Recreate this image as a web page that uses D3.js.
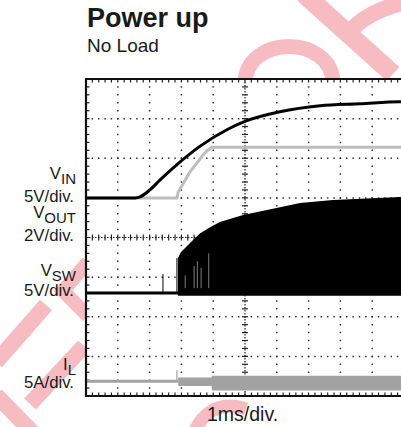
<!DOCTYPE html>
<meta charset="utf-8">
<style>
body { margin: 0; background: #fff; }
svg { display: block; font-family: "Liberation Sans", Arial, Helvetica, sans-serif; }
.lbl { font-size: 16.8px; text-anchor: end; fill: #1a1a1a; }
.sub { font-size: 15px; }
</style>
<svg width="401" height="427"></svg>
<script src="https://cdn.jsdelivr.net/npm/d3@7"></script>
<script>

// values (time in ms, volts / amps)
var vinTime  = [0, 1.55, 1.7, 2.01, 2.33, 2.86, 3.58, 4.43, 5.0, 6.1, 7.36, 8.62, 9.87, 10];
var vinVolts = [0, 0, 0.13, 1.01, 2.27, 4.2, 6.5, 8.6, 9.65, 10.86, 11.62, 11.87, 12.12, 12.12];

var voutTime  = [0, 2.86, 2.9, 3.27, 3.7, 3.84, 3.96, 10];
var voutVolts = [0, 0, 0.3, 1.31, 2.2, 2.42, 2.55, 2.55];

var swStart   = 2.9;
var swTime    = [2.89, 2.99, 3.27, 3.58, 3.9, 4.21, 4.94, 5.69, 6.73, 7.77, 9.87, 10];
var swPeak    = [4.42, 5.18, 6.31, 7.5, 8.3, 8.96, 9.85, 10.48, 11.36, 11.74, 12.12, 12.12];
var swSpikeT  = [2.42, 2.86];
var swSpikeV  = [2.4, 4.4];
var swGapT    = [3.12, 3.4, 3.5, 3.62, 3.86];
var swGapV    = [2.2, 3.4, 4.0, 3.2, 5.0];

var ilSpikeT  = 2.86, ilSpikeA = 1.39;
var ilTime    = [2.9, 3.95, 3.96, 10];
var ilHigh    = [0.5, 0.5, 0.7, 0.7];
var ilLow     = [-0.6, -0.6, -1.15, -1.15];

var svg = d3.select("svg");

// screen: 10 x 8 divisions, right edge falls just off the picture
var pL = 86, pT = 79, plotW = 318, plotH = 317;
var x = d3.scaleLinear().domain([0, 10]).range([pL, pL + plotW]);
var div = d3.scaleLinear().domain([0, 8]).range([pT, pT + plotH]);

function channel(ground, perDiv) {
  return d3.scaleLinear().domain([0, perDiv]).range([div(ground), div(ground - 1)]);
}
var yVin  = channel(3.0, 5),
    yVout = channel(3.0, 2),
    ySw   = channel(5.4, 5),
    yIl   = channel(7.63, 5);

// watermark, sits behind the screen
var pink = "#f7bcc1";
var wm = svg.append("g").attr("fill", "none").attr("stroke", pink);
wm.append("path").attr("d", "M245,84 C245,34 333,34 333,84").attr("stroke-width", 15);
wm.append("path").attr("d", "M304,-6 L393,74").attr("stroke-width", 19);
wm.append("path").attr("d", "M343,40 Q362,12 406,2").attr("stroke-width", 16);
wm.append("path").attr("d", "M88,262 L63,291 L88,316").attr("stroke-width", 14);
wm.append("path").attr("d", "M46,305 L-4,362").attr("stroke-width", 16);
wm.append("path").attr("d", "M84,346 L30,404").attr("stroke-width", 16);
wm.append("path").attr("d", "M-4,395 L40,440").attr("stroke-width", 16);
wm.append("path").attr("d", "M195,430 Q212,398 246,409").attr("stroke-width", 13);

svg.append("rect").attr("x", pL).attr("y", pT).attr("width", plotW).attr("height", plotH).attr("fill", "#fff");

svg.append("clipPath").attr("id", "clip").append("rect")
  .attr("x", pL).attr("y", pT).attr("width", plotW).attr("height", plotH);

var grid = svg.append("g").attr("clip-path", "url(#clip)");
var minorW = plotW / 50, minorH = plotH / 40;

d3.range(1, 10).filter(function(i) { return i != 5; }).forEach(function(i) {
  grid.append("line").attr("x1", x(i)).attr("x2", x(i)).attr("y1", pT).attr("y2", pT + plotH)
    .attr("stroke", "#333").attr("stroke-width", 1.5)
    .attr("stroke-dasharray", "1.5," + (minorH - 1.5)).attr("stroke-dashoffset", 0.75);
});
d3.range(1, 8).filter(function(i) { return i != 4; }).forEach(function(i) {
  grid.append("line").attr("y1", div(i)).attr("y2", div(i)).attr("x1", pL).attr("x2", pL + plotW)
    .attr("stroke", "#333").attr("stroke-width", 1.5)
    .attr("stroke-dasharray", "1.5," + (minorW - 1.5)).attr("stroke-dashoffset", 0.75);
});

// centre cross with minor ticks
grid.append("line").attr("x1", x(5)).attr("x2", x(5)).attr("y1", pT).attr("y2", pT + plotH)
  .attr("stroke", "#222").attr("stroke-width", 1.2).attr("stroke-dasharray", "1.5,1.5");
grid.append("line").attr("y1", div(4)).attr("y2", div(4)).attr("x1", pL).attr("x2", pL + plotW)
  .attr("stroke", "#222").attr("stroke-width", 1.2).attr("stroke-dasharray", "1.5,1.5");
grid.selectAll(".tv").data(d3.range(1, 40)).enter().append("line")
  .attr("x1", x(5) - 3).attr("x2", x(5) + 3)
  .attr("y1", function(d) { return pT + d * minorH; }).attr("y2", function(d) { return pT + d * minorH; })
  .attr("stroke", "#222").attr("stroke-width", 1.2);
grid.selectAll(".th").data(d3.range(1, 50)).enter().append("line")
  .attr("y1", div(4) - 3).attr("y2", div(4) + 3)
  .attr("x1", function(d) { return pL + d * minorW; }).attr("x2", function(d) { return pL + d * minorW; })
  .attr("stroke", "#222").attr("stroke-width", 1.2);

// edge ticks
grid.selectAll(".et").data(d3.range(1, 50)).enter().append("line")
  .attr("x1", function(d) { return pL + d * minorW; }).attr("x2", function(d) { return pL + d * minorW; })
  .attr("y1", pT).attr("y2", pT + 3.5).attr("stroke", "#222").attr("stroke-width", 1.2);
grid.selectAll(".eb").data(d3.range(1, 50)).enter().append("line")
  .attr("x1", function(d) { return pL + d * minorW; }).attr("x2", function(d) { return pL + d * minorW; })
  .attr("y1", pT + plotH).attr("y2", pT + plotH - 3.5).attr("stroke", "#222").attr("stroke-width", 1.2);
grid.selectAll(".el").data(d3.range(1, 40)).enter().append("line")
  .attr("y1", function(d) { return pT + d * minorH; }).attr("y2", function(d) { return pT + d * minorH; })
  .attr("x1", pL).attr("x2", pL + 3.5).attr("stroke", "#222").attr("stroke-width", 1.2);

var traces = svg.append("g").attr("clip-path", "url(#clip)");

// I_L
var ilGray = "#a2a2a2";
traces.append("line").attr("x1", x(0)).attr("x2", x(swStart)).attr("y1", yIl(0)).attr("y2", yIl(0))
  .attr("stroke", ilGray).attr("stroke-width", 3);
traces.append("line").attr("x1", x(ilSpikeT)).attr("x2", x(ilSpikeT)).attr("y1", yIl(0)).attr("y2", yIl(ilSpikeA))
  .attr("stroke", ilGray).attr("stroke-width", 1.2);
traces.append("path")
  .datum(d3.zip(ilTime, ilHigh, ilLow))
  .attr("fill", ilGray)
  .attr("d", d3.area().x(function(d) { return x(d[0]); })
    .y0(function(d) { return yIl(d[2]); }).y1(function(d) { return yIl(d[1]); }));

// V_OUT
traces.append("path")
  .datum(d3.zip(voutTime, voutVolts))
  .attr("fill", "none").attr("stroke", "#bdbdbd").attr("stroke-width", 3)
  .attr("d", d3.line().x(function(d) { return x(d[0]); }).y(function(d) { return yVout(d[1]); }));

// V_IN
traces.append("path")
  .datum(d3.zip(vinTime, vinVolts))
  .attr("fill", "none").attr("stroke", "#000").attr("stroke-width", 3)
  .attr("d", d3.line().curve(d3.curveMonotoneX)
    .x(function(d) { return x(d[0]); }).y(function(d) { return yVin(d[1]); }));

// V_SW : idle line, two early spikes, then the switching envelope
traces.append("line").attr("x1", x(0)).attr("x2", x(swStart)).attr("y1", ySw(0)).attr("y2", ySw(0))
  .attr("stroke", "#000").attr("stroke-width", 3);
traces.selectAll(".sp").data(d3.zip(swSpikeT, swSpikeV)).enter().append("line")
  .attr("x1", function(d) { return x(d[0]); }).attr("x2", function(d) { return x(d[0]); })
  .attr("y1", ySw(0)).attr("y2", function(d) { return ySw(d[1]); })
  .attr("stroke", "#000").attr("stroke-width", 1);
traces.append("path")
  .datum(d3.zip(swTime, swPeak))
  .attr("fill", "#000")
  .attr("d", d3.area().x(function(d) { return x(d[0]); })
    .y0(ySw(-0.35)).y1(function(d) { return ySw(d[1]); }));
// lighter gaps between the first bursts
traces.selectAll(".gap").data(d3.zip(swGapT, swGapV)).enter().append("line")
  .attr("x1", function(d) { return x(d[0]); }).attr("x2", function(d) { return x(d[0]); })
  .attr("y1", function(d) { return ySw(d[1]); }).attr("y2", ySw(0.6))
  .attr("stroke", "#8a8a8a").attr("stroke-width", 0.9);

// frame
svg.append("path")
  .attr("d", "M" + (pL + plotW + 5) + "," + pT + "H" + pL + "V" + (pT + plotH) + "H" + (pL + plotW + 5))
  .attr("fill", "none").attr("stroke", "#111").attr("stroke-width", 2.2);

// text
svg.append("text").attr("x", 87).attr("y", 27).attr("font-size", 27).attr("font-weight", "bold")
  .attr("fill", "#1a1a1a").text("Power up");
svg.append("text").attr("x", 87).attr("y", 52).attr("font-size", 19).attr("fill", "#1a1a1a").text("No Load");

function chanLabel(name, sub, yName, unit, yUnit) {
  var t = svg.append("text").attr("class", "lbl").attr("x", 76).attr("y", yName);
  t.append("tspan").text(name);
  t.append("tspan").attr("class", "sub").attr("dy", 5).text(sub);
  svg.append("text").attr("class", "lbl").attr("x", 74).attr("y", yUnit).text(unit);
}
chanLabel("V", "IN", 179, "5V/div.", 202);
chanLabel("V", "OUT", 218, "2V/div.", 241);
chanLabel("V", "SW", 276, "5V/div.", 296);
chanLabel("I", "L", 370, "5A/div.", 388);

svg.append("text").attr("x", 207).attr("y", 421).attr("font-size", 19.5).attr("fill", "#1a1a1a").text("1ms/div.");

</script>
